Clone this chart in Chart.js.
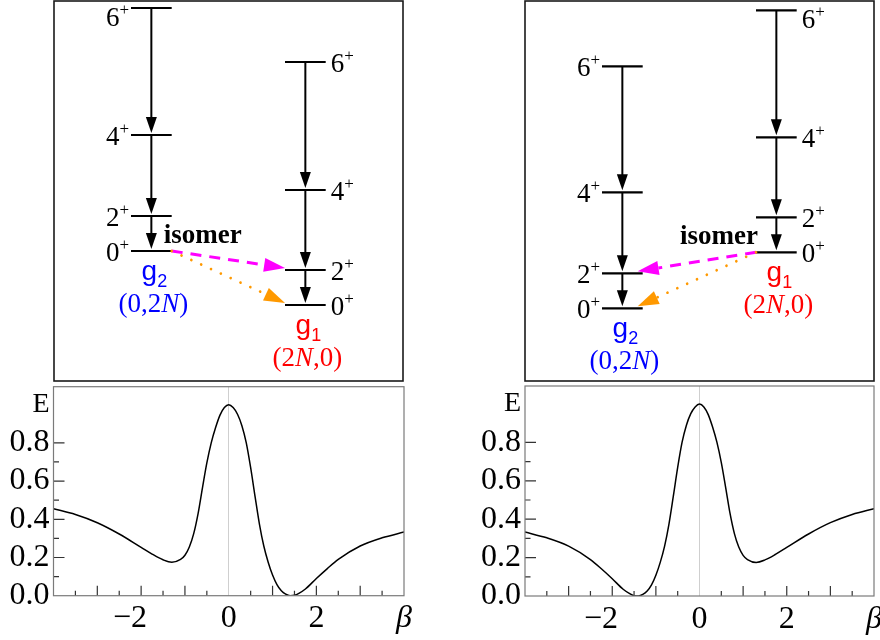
<!DOCTYPE html>
<html>
<head>
<meta charset="utf-8">
<script src="https://cdn.jsdelivr.net/npm/chart.js@4.4.1/dist/chart.umd.min.js"></script>
<style>
html,body{margin:0;padding:0;background:#fff}
#wrap{position:relative;width:880px;height:640px;overflow:hidden}
canvas{position:absolute;display:block}
</style>
</head>
<body>
<div id="wrap">
  <canvas id="schemeL" width="351" height="382" style="left:53px;top:0"></canvas>
  <canvas id="schemeR" width="351" height="382" style="left:524px;top:0"></canvas>
  <canvas id="curveL" width="420" height="256" style="left:0;top:384px"></canvas>
  <canvas id="curveR" width="440" height="256" style="left:440px;top:384px"></canvas>
</div>
<script>
// ===== DATA =====
// level energies (arbitrary units) for spins 0+,2+,4+,6+
const SPINS=['0','2','4','6'];
const levelsLeftG2=[54,89,170,297];
const levelsLeftG1=[0,35,115,243];
const levelsRightG2=[0,35,116,242];
const levelsRightG1=[56,91,171,298];

// E(beta) curves of the lower panels
const betaLeft=[-4,-3.5,-3,-2.5,-2,-1.75,-1.5,-1.3,-1.1,-1,-0.9,-0.8,-0.7,-0.6,-0.5,-0.4,-0.3,-0.2,-0.1,0,
  0.1,0.2,0.3,0.4,0.5,0.6,0.7,0.8,0.9,1,1.1,1.2,1.3,1.4,1.5,1.6,1.75,2,2.25,2.5,3,3.5,4];
const energyLeft=[0.455,0.425,0.382,0.323,0.253,0.218,0.188,0.175,0.19,0.212,0.255,0.325,0.43,0.565,0.695,0.80,0.88,0.945,0.985,1.0,
  0.985,0.95,0.89,0.80,0.67,0.52,0.375,0.26,0.175,0.108,0.058,0.026,0.008,0,0.002,0.012,0.035,0.09,0.142,0.19,0.26,0.303,0.333];
const betaRight=[-4,-3.5,-3,-2.5,-2.25,-2,-1.75,-1.6,-1.5,-1.4,-1.3,-1.2,-1.1,-1,-0.9,-0.8,-0.7,-0.6,-0.5,-0.4,-0.3,-0.2,-0.1,0,
  0.1,0.2,0.3,0.4,0.5,0.6,0.7,0.8,0.9,1,1.1,1.3,1.5,1.75,2,2.5,3,3.5,4];
const energyRight=[0.333,0.303,0.26,0.19,0.142,0.09,0.035,0.012,0.002,0,0.008,0.026,0.058,0.108,0.175,0.26,0.375,0.52,0.67,0.80,0.89,0.95,0.985,1.0,
  0.985,0.945,0.88,0.80,0.695,0.565,0.43,0.325,0.255,0.212,0.19,0.175,0.188,0.218,0.253,0.323,0.382,0.425,0.455];

// tick labels (the minus hangs to the left of the centred digit)
const xTickValues=[-2,0,2,4];
const xTickLabels=['\u22122\u2002\u2009','0','2','\u03b2'];
const yTickValues=[0,0.2,0.4,0.6,0.8,1];
const yTickLabels=['0.0','0.2','0.4','0.6','0.8','E'];

// ===== LAYOUT / STYLE =====
const SERIF='"Liberation Serif","Times New Roman",serif';
const SANS='"Liberation Sans",Arial,sans-serif';
const BAND_LEFT={x0:77,x1:117.7};
const BAND_RIGHT={x0:231,x1:271.7};
const MAGENTA='#ff00ff',ORANGE='#ff9900';

function arrowHead(ctx,x1,y1,x2,y2,len,wid,color){
  const d=Math.hypot(x2-x1,y2-y1),ux=(x2-x1)/d,uy=(y2-y1)/d;
  const bx=x2-ux*len,by=y2-uy*len;
  ctx.beginPath();ctx.moveTo(x2,y2);
  ctx.lineTo(bx-uy*wid/2,by+ux*wid/2);ctx.lineTo(bx+uy*wid/2,by-ux*wid/2);
  ctx.closePath();ctx.fillStyle=color;ctx.fill();
  return [bx,by];
}

function drawSpin(ctx,spin,x,y,side,top){
  ctx.font='27px '+SERIF;const dw=ctx.measureText(spin).width;
  ctx.font='17px '+SERIF;const pw=ctx.measureText('+').width;
  const sx=side==='left'?x-dw-pw:x;
  // labels that would stick out of the frame are pushed down
  const base=(y-9<top+4)?y+17.5:y+9.5;
  ctx.fillStyle='#000';ctx.textAlign='left';ctx.textBaseline='alphabetic';
  ctx.font='27px '+SERIF;ctx.fillText(spin,sx,base);
  ctx.font='17px '+SERIF;ctx.fillText('+',sx+dw,base-10.5);
}

function drawBandName(ctx,b,cx,y){
  ctx.fillStyle=b.color;ctx.textAlign='left';ctx.textBaseline='alphabetic';
  ctx.font='28px '+SANS;const gw=ctx.measureText('g').width;
  ctx.font='18px '+SANS;const sw=ctx.measureText(b.sub).width;
  let sx=cx+3-(gw+sw)/2;
  ctx.font='28px '+SANS;ctx.fillText('g',sx,y+29);
  ctx.font='18px '+SANS;ctx.fillText(b.sub,sx+gw,y+36);
  // (n1,n2) tag: plain, italic N, plain
  const fonts=['27px '+SERIF,'italic 27px '+SERIF,'27px '+SERIF];
  const ws=b.tag.map((t,i)=>{ctx.font=fonts[i];return ctx.measureText(t).width});
  sx=cx+2-(ws[0]+ws[1]+ws[2])/2;
  b.tag.forEach((t,i)=>{ctx.font=fonts[i];ctx.fillText(t,sx,y+61);sx+=ws[i]});
}

function makeSchemePlugin(cfg){
  return{id:'scheme',afterDatasetsDraw(chart){
    const {ctx,chartArea:a,scales:{x,y}}=chart;
    ctx.save();
    cfg.bands.forEach(b=>{
      const cx=x.getPixelForValue((b.x0+b.x1)/2);
      // cascade of E2 transitions
      for(let i=b.levels.length-1;i>0;i--){
        const yTop=y.getPixelForValue(b.levels[i]),yBot=y.getPixelForValue(b.levels[i-1])-2;
        const [bx,by]=arrowHead(ctx,cx,yTop,cx,yBot,16,11,'#000');
        ctx.strokeStyle='#000';ctx.lineWidth=2;ctx.setLineDash([]);
        ctx.beginPath();ctx.moveTo(cx,yTop);ctx.lineTo(bx,by+1);ctx.stroke();
      }
      // spin labels
      b.levels.forEach((e,i)=>{
        const py=y.getPixelForValue(e);
        if(b.side==='left')drawSpin(ctx,SPINS[i],x.getPixelForValue(b.x0)-2,py,'left',a.top);
        else drawSpin(ctx,SPINS[i],x.getPixelForValue(b.x1)+5,py,'right',a.top);
      });
      drawBandName(ctx,b,cx,y.getPixelForValue(b.levels[0]));
    });
    // isomer decays
    const iso=cfg.bands[cfg.isomer.from],dst=cfg.bands[cfg.isomer.to];
    const toRight=cfg.isomer.to>cfg.isomer.from;
    const sx=x.getPixelForValue(toRight?iso.x1:iso.x0),sy=y.getPixelForValue(iso.levels[0]);
    const ex=x.getPixelForValue(toRight?dst.x0:dst.x1)+(toRight?-cfg.isomer.gap:cfg.isomer.gap);
    [[1,MAGENTA,3,[11,8],'butt'],[0,ORANGE,2.7,[0.01,10.8],'round']].forEach(([lv,col,lw,dash,cap])=>{
      const ey=y.getPixelForValue(dst.levels[lv])-2;
      const [bx,by]=arrowHead(ctx,sx,sy,ex,ey,21,14,col);
      ctx.strokeStyle=col;ctx.lineWidth=lw;ctx.setLineDash(dash);ctx.lineCap=cap;
      ctx.beginPath();ctx.moveTo(sx,sy);ctx.lineTo(bx,by);ctx.stroke();
    });
    ctx.setLineDash([]);ctx.lineCap='butt';
    // isomer word
    ctx.fillStyle='#000';ctx.font='bold 27px '+SERIF;ctx.textBaseline='alphabetic';
    ctx.textAlign=cfg.isomer.align;
    ctx.fillText('isomer',sx+cfg.isomer.dx,sy-8);
    // frame
    ctx.strokeStyle='#1a1a1a';ctx.lineWidth=1.6;
    ctx.strokeRect(a.left,a.top,a.right-a.left,a.bottom-a.top);
    ctx.restore();
  }};
}

function schemeChart(id,cfg){
  const datasets=[];
  cfg.bands.forEach(b=>b.levels.forEach(e=>datasets.push({
    data:[{x:b.x0,y:e},{x:b.x1,y:e}],showLine:true,borderColor:'#000',borderWidth:2.2,pointRadius:0
  })));
  return new Chart(document.getElementById(id),{
    type:'scatter',data:{datasets},
    options:{responsive:false,animation:false,layout:{padding:1},
      plugins:{legend:{display:false},tooltip:{enabled:false}},
      scales:{x:{type:'linear',display:false,min:0,max:349},y:{type:'linear',display:false,min:cfg.yMin,max:cfg.yMax}}},
    plugins:[makeSchemePlugin(cfg)]
  });
}

schemeChart('schemeL',{yMin:-76,yMax:304,
  bands:[{levels:levelsLeftG2,...BAND_LEFT,side:'left',color:'#0000ff',sub:'2',tag:['(0,2','N',')']},
         {levels:levelsLeftG1,...BAND_RIGHT,side:'right',color:'#ff0000',sub:'1',tag:['(2','N',',0)']}],
  isomer:{from:0,to:1,gap:0,dx:-8,align:'left'}});
schemeChart('schemeR',{yMin:-72.7,yMax:307.3,
  bands:[{levels:levelsRightG2,...BAND_LEFT,side:'left',color:'#0000ff',sub:'2',tag:['(0,2','N',')']},
         {levels:levelsRightG1,...BAND_RIGHT,side:'right',color:'#ff0000',sub:'1',tag:['(2','N',',0)']}],
  isomer:{from:1,to:0,gap:-5,dx:2,align:'right'}});

// ===== ENERGY CURVES =====
const axisFrame={id:'axisFrame',afterDatasetsDraw(chart){
  const {ctx,chartArea:a,scales:{x,y}}=chart;
  ctx.save();
  ctx.strokeStyle='#333';ctx.lineWidth=1.2;ctx.beginPath();
  x.ticks.forEach(t=>{const v=t.value;if(v<=-4||v>=4||Math.abs(v)<1e-9)return;
    const major=Math.abs(v-Math.round(v))<1e-9,px=x.getPixelForValue(v);
    ctx.moveTo(px,a.bottom);ctx.lineTo(px,a.bottom-(major?10:5));});
  y.ticks.forEach(t=>{const v=t.value;if(v<=1e-9||v>0.85)return;
    const major=Math.abs(v*5-Math.round(v*5))<1e-6,py=y.getPixelForValue(v);
    ctx.moveTo(a.left,py);ctx.lineTo(a.left+(major?11:5.5),py);});
  ctx.stroke();
  ctx.strokeStyle='#7a7a7a';ctx.lineWidth=1.2;
  ctx.strokeRect(a.left,a.top,a.right-a.left,a.bottom-a.top);
  ctx.restore();
}};

function findLabel(vals,labels,v){const i=vals.findIndex(t=>Math.abs(t-v)<1e-6);return i<0?'':labels[i]}

function curveChart(id,betas,energies,lay){
  return new Chart(document.getElementById(id),{
    type:'line',
    data:{datasets:[{data:betas.map((b,i)=>({x:b,y:energies[i]})),borderColor:'#000',borderWidth:1.5,
      pointRadius:0,cubicInterpolationMode:'monotone',fill:false}]},
    options:{responsive:false,animation:false,
      layout:{padding:{top:lay.padTop,right:lay.padRight,left:0,bottom:0}},
      plugins:{legend:{display:false},tooltip:{enabled:false}},
      scales:{
        x:{type:'linear',min:-4,max:4,
          ticks:{stepSize:0.5,autoSkip:false,maxRotation:0,padding:4,color:'#000',
            font:c=>({family:SERIF,size:32,style:(c.tick&&Math.abs(c.tick.value-4)<1e-6)?'italic':'normal'}),
            callback:v=>findLabel(xTickValues,xTickLabels,v)},
          grid:{drawTicks:false,lineWidth:1,color:c=>(c.tick&&Math.abs(c.tick.value)<1e-9)?'#cfcfcf':'rgba(0,0,0,0)'},
          border:{display:false},
          afterFit(s){s.height=lay.xHeight;s.paddingLeft=0;s.paddingRight=0;}},
        y:{type:'linear',min:0,max:1.094,
          ticks:{stepSize:0.1,includeBounds:false,autoSkip:false,padding:4,color:'#000',
            font:c=>({family:SERIF,size:(c.tick&&Math.abs(c.tick.value-1)<1e-6)?28:32}),
            callback:v=>findLabel(yTickValues,yTickLabels,v)},
          grid:{display:false,drawTicks:false},border:{display:false},
          afterFit(s){s.width=lay.yWidth;s.paddingTop=0;s.paddingBottom=0;}}
      }},
    plugins:[axisFrame]
  });
}

curveChart('curveL',betaLeft,energyLeft,{padTop:2.7,padRight:16,xHeight:44.3,yWidth:53.5});
curveChart('curveR',betaRight,energyRight,{padTop:2,padRight:6,xHeight:44,yWidth:85});
</script>
</body>
</html>
